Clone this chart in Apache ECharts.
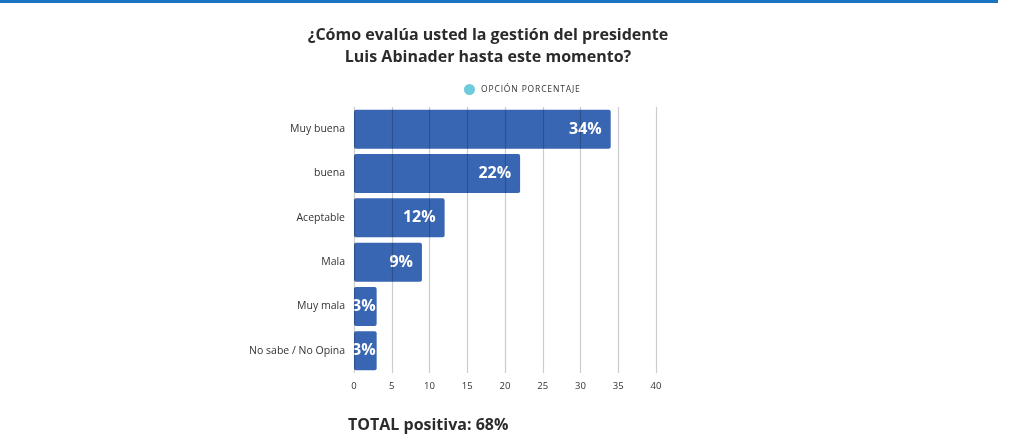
<!DOCTYPE html>
<html>
<head>
<meta charset="utf-8">
<script src="https://cdn.jsdelivr.net/npm/echarts@6/dist/echarts.min.js"></script>
<style>
html,body{margin:0;padding:0;background:#fff;}
#chart{width:1024px;height:448px;}
</style>
</head>
<body>
<div id="chart"></div>
<script type="text/javascript">
// datos de la encuesta
var categorias = ['Muy buena', 'buena', 'Aceptable', 'Mala', 'Muy mala', 'No sabe / No Opina'];
var porcentajes = [34, 22, 12, 9, 3, 3];
var ticksX = [0, 5, 10, 15, 20, 25, 30, 35, 40];
var nombreSerie = 'OPCIÓN PORCENTAJE';

var chart = echarts.init(document.getElementById('chart'));
var option = {
    animation: false,
    textStyle: { fontFamily: 'Open Sans' },
    graphic: [
        { type: 'rect', shape: { x: 0, y: 0, width: 998, height: 3 }, style: { fill: '#1b74c0' } }
    ],
    title: [
        {
            text: '¿Cómo evalúa usted la gestión del presidente\nLuis Abinader hasta este momento?',
            left: 483, top: 19, textAlign: 'center',
            textStyle: { fontSize: 16, fontWeight: 'bold', color: '#2b2b2b', lineHeight: 22, fontFamily: 'Open Sans' }
        },
        {
            text: 'TOTAL positiva: 68%',
            left: 343, top: 412,
            textStyle: { fontSize: 16, fontWeight: 'bold', color: '#2b2b2b', fontFamily: 'Open Sans' }
        }
    ],
    legend: {
        left: 459, top: 79,
        itemWidth: 11, itemHeight: 11, itemGap: 4,
        icon: 'circle',
        data: [{ name: nombreSerie, itemStyle: { color: '#6ccbdc' } }],
        textStyle: { fontSize: 8.5, color: '#333', padding: [0, 0, 0, 1] },
        formatter: function (n) { return n.split('').join('\u200a'); }
    },
    grid: { left: 354, right: 368, top: 107, bottom: 75 },
    xAxis: {
        type: 'value', min: 0, max: 40, interval: 5, z: 3,
        axisLine: { show: false }, axisTick: { show: false },
        axisLabel: {
            fontSize: 9.5, color: '#333', margin: 8,
            formatter: function (v) { return ticksX.indexOf(v) >= 0 ? String(v) : ''; }
        },
        splitLine: { show: true, lineStyle: { color: 'rgba(0,0,0,0.2)', width: 1.2 } }
    },
    yAxis: {
        type: 'category', inverse: true, data: categorias,
        axisLine: { show: false }, axisTick: { show: false },
        axisLabel: { fontSize: 10.5, color: '#333', margin: 9 }
    },
    series: [{
        name: nombreSerie,
        type: 'bar',
        // barras cortas: etiqueta pegada al borde
        data: porcentajes.map(function (v) {
            return { value: v, label: { distance: v < 5 ? 1 : 9 } };
        }),
        barWidth: 39,
        itemStyle: { color: '#3966b2', borderRadius: 2 },
        label: {
            show: true, position: 'insideRight',
            color: '#fff', fontSize: 16, fontWeight: 'bold',
            formatter: '{c}%'
        }
    }]
};
chart.setOption(option);
</script>
</body>
</html>
